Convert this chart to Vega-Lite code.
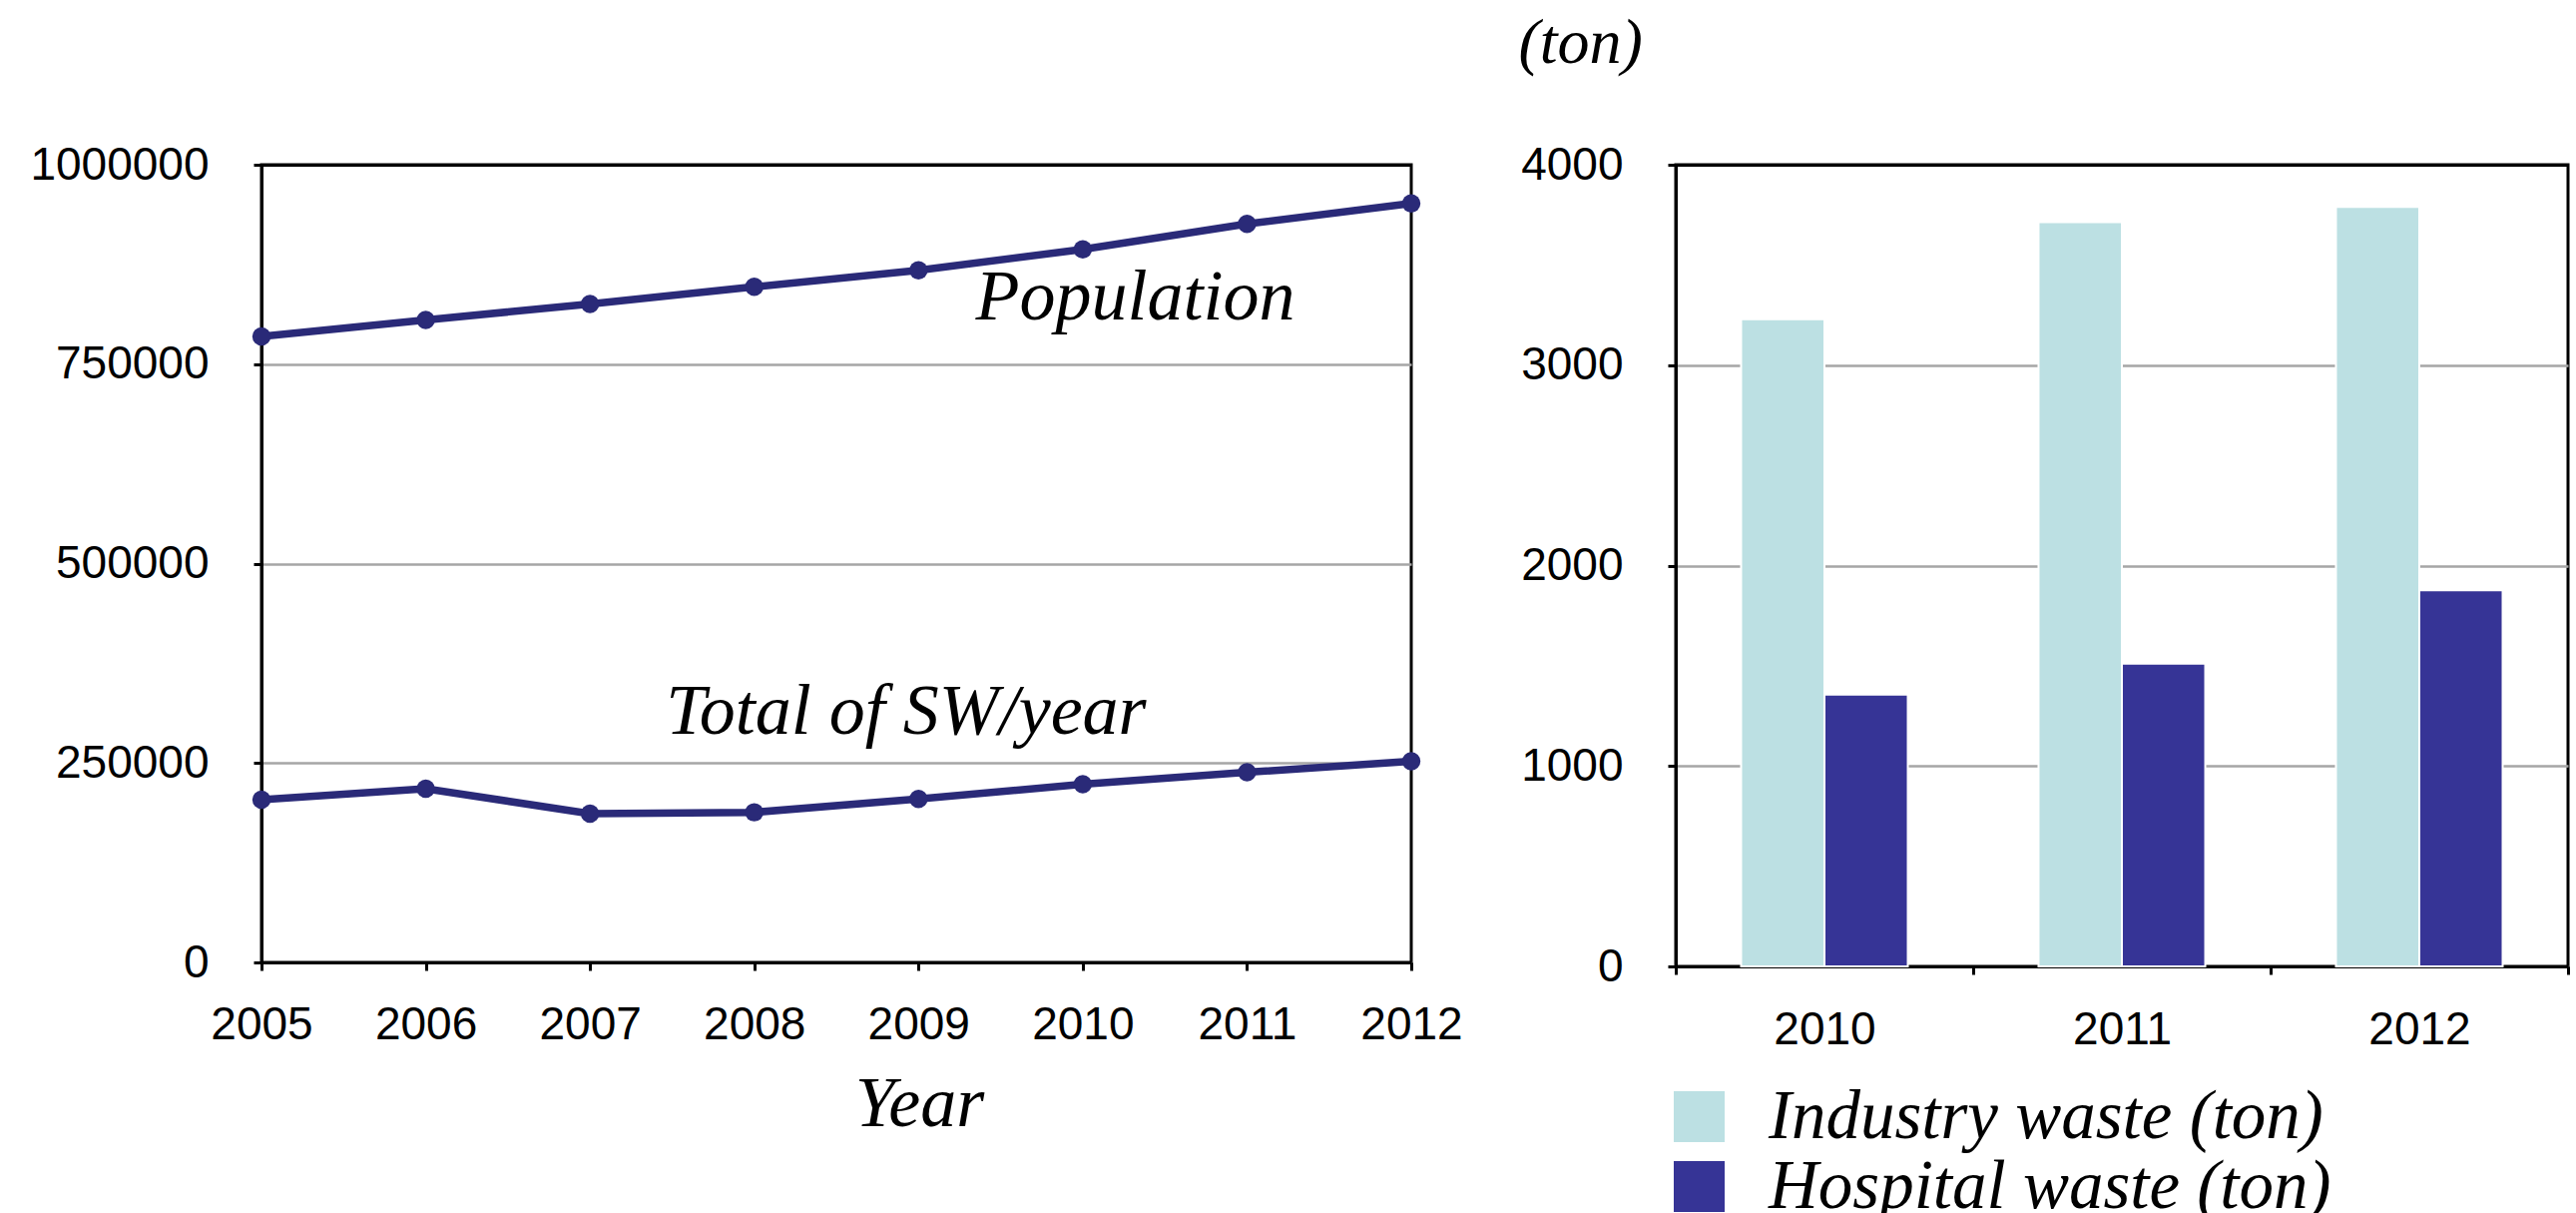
{
  "$schema": "https://vega.github.io/schema/vega-lite/v6.json",
  "background": "white",
  "padding": {"left": 28, "top": 9, "right": 0, "bottom": 0},
  "spacing": 52,
  "resolve": {"legend": {"color": "independent"}},
  "config": {
    "view": {"stroke": "black", "strokeWidth": 3},
    "axis": {
      "labelFont": "Liberation Sans", "labelFontSize": 46, "labelColor": "black",
      "tickColor": "black", "tickWidth": 3, "tickSize": 8,
      "domainColor": "black", "domainWidth": 3,
      "gridColor": "#a6a6a6", "gridWidth": 2.5,
      "labelOverlap": false, "labelFlush": false,
      "titleFont": "Liberation Serif", "titleFontStyle": "italic", "titleFontWeight": "normal", "titleColor": "black"
    }
  },
  "hconcat": [
    {
      "width": 1152,
      "height": 799,
      "title": {"text": " ", "fontSize": 10, "offset": 120},
      "data": {"values": [
        {"year": 2005, "series": "Population", "value": 784700},
        {"year": 2006, "series": "Population", "value": 805400},
        {"year": 2007, "series": "Population", "value": 825400},
        {"year": 2008, "series": "Population", "value": 846900},
        {"year": 2009, "series": "Population", "value": 867600},
        {"year": 2010, "series": "Population", "value": 893900},
        {"year": 2011, "series": "Population", "value": 925800},
        {"year": 2012, "series": "Population", "value": 951500},
        {"year": 2005, "series": "SW", "value": 204100},
        {"year": 2006, "series": "SW", "value": 217700},
        {"year": 2007, "series": "SW", "value": 186600},
        {"year": 2008, "series": "SW", "value": 188200},
        {"year": 2009, "series": "SW", "value": 204900},
        {"year": 2010, "series": "SW", "value": 223300},
        {"year": 2011, "series": "SW", "value": 238400},
        {"year": 2012, "series": "SW", "value": 252100}
      ]},
      "encoding": {
        "x": {
          "field": "year", "type": "quantitative",
          "scale": {"domain": [2005, 2012], "nice": false, "zero": false},
          "axis": {
            "values": [2005, 2006, 2007, 2008, 2009, 2010, 2011, 2012],
            "format": "d", "grid": false, "labelPadding": 32,
            "title": "Year", "titleFontSize": 72, "titleX": 659, "titleY": 163,
            "titleBaseline": "alphabetic", "titleAlign": "center"
          }
        },
        "y": {
          "field": "value", "type": "quantitative",
          "scale": {"domain": [0, 1000000], "nice": false},
          "axis": {
            "values": [0, 250000, 500000, 750000, 1000000],
            "format": "d", "title": null, "labelPadding": 45, "grid": true,
            "gridColor": {"condition": {"test": "datum.value >= 1000000", "value": "black"}, "value": "#a6a6a6"},
            "gridWidth": {"condition": {"test": "datum.value >= 1000000", "value": 3}, "value": 2.5}
          }
        }
      },
      "layer": [
        {
          "mark": {"type": "line", "color": "#2a2a78", "strokeWidth": 7.5},
          "encoding": {"detail": {"field": "series"}}
        },
        {
          "mark": {"type": "point", "filled": true, "size": 340, "color": "#2a2a78", "opacity": 1}
        },
        {
          "data": {"values": [
            {"year": 2010.32, "value": 806000, "label": "Population"},
            {"year": 2008.925, "value": 286200, "label": "Total of SW/year"}
          ]},
          "mark": {"type": "text", "font": "Liberation Serif", "fontStyle": "italic", "fontSize": 72, "align": "center", "baseline": "alphabetic", "color": "black"},
          "encoding": {"text": {"field": "label"}}
        }
      ]
    },
    {
      "width": 894,
      "height": 803,
      "data": {"values": [
        {"year": "2010", "type": "Industry waste (ton)", "value": 3229},
        {"year": "2010", "type": "Hospital waste (ton)", "value": 1356},
        {"year": "2011", "type": "Industry waste (ton)", "value": 3713},
        {"year": "2011", "type": "Hospital waste (ton)", "value": 1511},
        {"year": "2012", "type": "Industry waste (ton)", "value": 3790},
        {"year": "2012", "type": "Hospital waste (ton)", "value": 1877}
      ]},
      "mark": {"type": "bar", "stroke": "white", "strokeWidth": 2},
      "encoding": {
        "x": {
          "field": "year", "type": "nominal",
          "scale": {"paddingInner": 0, "paddingOuter": 0},
          "axis": {"title": null, "labelAngle": 0, "tickBand": "extent", "labelPadding": 33, "grid": false}
        },
        "xOffset": {
          "field": "type", "sort": ["Industry waste (ton)", "Hospital waste (ton)"],
          "scale": {"paddingInner": 0, "paddingOuter": 0.784}
        },
        "y": {
          "field": "value", "type": "quantitative",
          "scale": {"domain": [0, 4000], "nice": false},
          "axis": {
            "values": [0, 1000, 2000, 3000, 4000], "format": "d",
            "title": "(ton)", "titleFontSize": 64, "titleAngle": 0, "titleAlign": "left",
            "titleBaseline": "top", "titleX": -158, "titleY": -154,
            "labelPadding": 45, "grid": true,
            "gridColor": {"condition": {"test": "datum.value >= 4000", "value": "black"}, "value": "#a6a6a6"},
            "gridWidth": {"condition": {"test": "datum.value >= 4000", "value": 3}, "value": 2.5}
          }
        },
        "color": {
          "field": "type", "type": "nominal",
          "sort": ["Industry waste (ton)", "Hospital waste (ton)"],
          "scale": {"domain": ["Industry waste (ton)", "Hospital waste (ton)"], "range": ["#bce0e3", "#363496"]},
          "legend": {
            "title": null, "orient": "none", "legendX": -11, "legendY": 919, "direction": "vertical",
            "padding": 0, "symbolType": "square", "symbolSize": 2601, "symbolStrokeWidth": 0, "symbolOpacity": 1,
            "labelFont": "Liberation Serif", "labelFontStyle": "italic", "labelFontSize": 69, "labelColor": "black",
            "labelOffset": 35, "rowPadding": -10, "labelLimit": 1000
          }
        }
      }
    }
  ]
}
